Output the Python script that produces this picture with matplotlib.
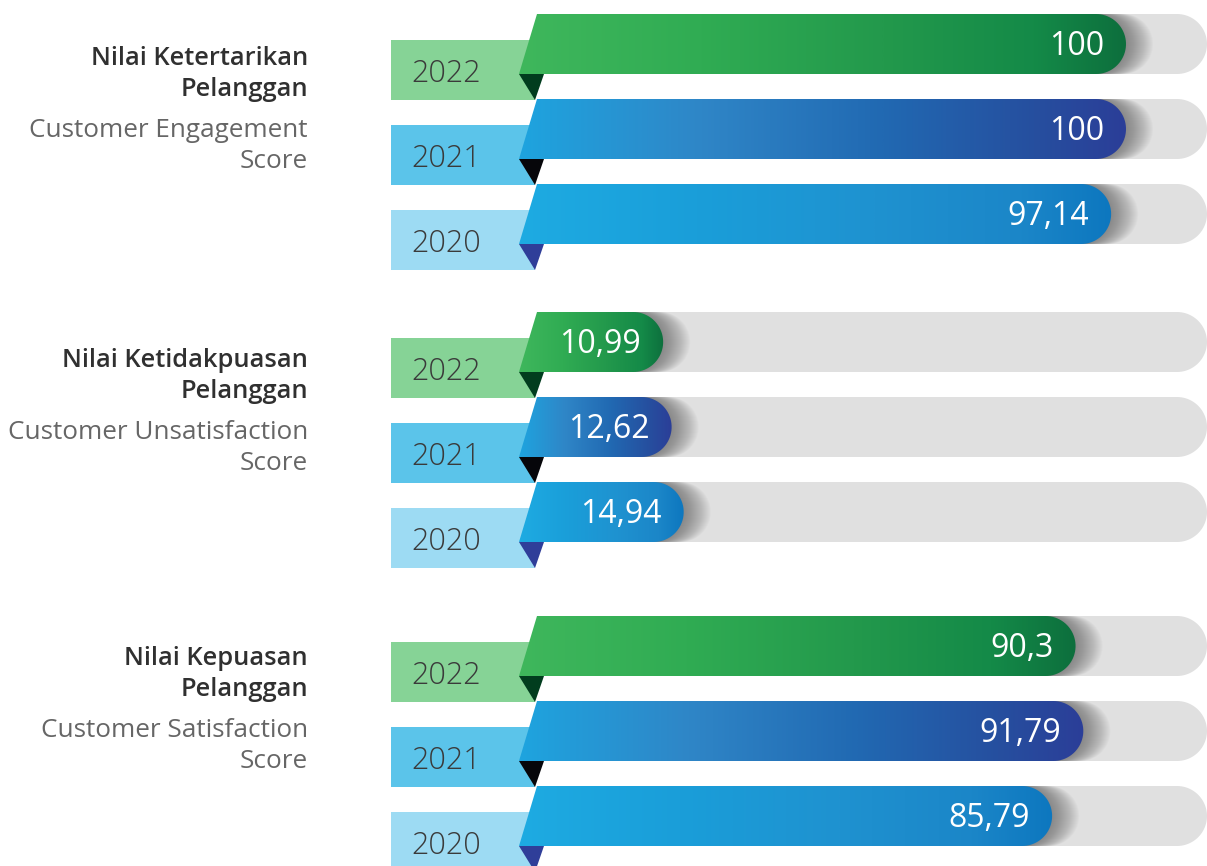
import numpy as np
import matplotlib
matplotlib.use("Agg")
import matplotlib.pyplot as plt
from matplotlib.path import Path
from matplotlib.patches import PathPatch, Polygon, Rectangle
from matplotlib.colors import LinearSegmentedColormap

# ---------------- data ----------------
years = ["2022", "2021", "2020"]
titles_id = ["Nilai Ketertarikan\nPelanggan",
             "Nilai Ketidakpuasan\nPelanggan",
             "Nilai Kepuasan\nPelanggan"]
titles_en = ["Customer Engagement\nScore",
             "Customer Unsatisfaction\nScore",
             "Customer Satisfaction\nScore"]
engagement_score = [100, 100, 97.14]
unsatisfaction_score = [10.99, 12.62, 14.94]
satisfaction_score = [90.3, 91.79, 85.79]
groups = [engagement_score, unsatisfaction_score, satisfaction_score]

# ---------------- style ----------------
plt.rcParams['font.family'] = ['Open Sans', 'DejaVu Sans']
box_colors = ['#86d396', '#5bc4ea', '#9ddbf3']
tri_colors = ['#013d1e', '#06060a', '#2f3e99']
grad_colors = [
    ['#3fb75c', '#30ac53', '#23994c', '#148a48', '#0d6f3d'],
    ['#1ea4df', '#2f86c7', '#2169b2', '#264f9f', '#2b3e98'],
    ['#1eabe2', '#1a9ed9', '#1f92d0', '#1b86c8', '#0d77bf'],
]
grad_pos = [0, 0.3, 0.6, 0.85, 1.0]
track_color = '#e0e0e0'

W, H = 1207, 866
X0, K = 606.0, 5.2          # pixel position of value 0, pixels per unit
BAR_H, R = 60, 30
GROUP_TOP = [14, 312, 616]
ROW_OFF = [0, 85, 170]
TEXT_BASE = [65, 367, 665]


def vx(px):
    return (px - X0) / K


fig = plt.figure(figsize=(W / 100, H / 100), dpi=100)
ax = fig.add_axes([0, 0, 1, 1])
ax.set_xlim(vx(0), vx(W))
ax.set_ylim(H, 0)
ax.axis('off')


def rounded_path(xlt, xlb, xr, yt, yb):
    rx = R / K
    yc = (yt + yb) / 2
    cx = xr - rx
    t = np.linspace(np.pi / 2, -np.pi / 2, 40)
    ax_ = cx + rx * np.cos(t)
    ay_ = yc - R * np.sin(t)
    verts = [(xlb, yb), (xlt, yt)] + list(zip(ax_, ay_)) + [(xlb, yb)]
    codes = [Path.MOVETO] + [Path.LINETO] * (len(verts) - 2) + [Path.CLOSEPOLY]
    return Path(verts, codes)


grad = np.linspace(0, 1, 512)[None, :]

for g, values in enumerate(groups):
    for i, v in enumerate(values):
        yt = GROUP_TOP[g] + ROW_OFF[i]
        yb = yt + BAR_H
        xlt, xlb = vx(537), vx(519)

        # track
        track = PathPatch(rounded_path(vx(540), vx(540), vx(W), yt, yb),
                          facecolor=track_color, edgecolor='none', zorder=1)
        ax.add_patch(track)
        # shadow
        for d in range(1, 28):
            sp = PathPatch(rounded_path(xlt, xlb, v + d / K, yt, yb),
                           facecolor='#5a5a5a', edgecolor='none', alpha=0.03, zorder=2)
            ax.add_patch(sp)
            sp.set_clip_path(track)
        # year box
        ax.add_patch(Rectangle((vx(391), yt + 26), vx(535) - vx(391), 60,
                               facecolor=box_colors[i], edgecolor='none', zorder=3))
        # triangle fold
        ax.add_patch(Polygon([(vx(519), yb), (vx(544), yb), (vx(535), yb + 26)],
                             closed=True, facecolor=tri_colors[i], edgecolor='none', zorder=4))
        # bar with gradient
        bar = PathPatch(rounded_path(xlt, xlb, v, yt, yb),
                        facecolor='none', edgecolor='none', zorder=5)
        ax.add_patch(bar)
        cmap = LinearSegmentedColormap.from_list('g%d' % i, list(zip(grad_pos, grad_colors[i])))
        im = ax.imshow(grad, extent=[xlb, v, yb, yt], aspect='auto', cmap=cmap,
                       interpolation='bilinear', zorder=5)
        im.set_clip_path(bar)

        # texts
        ax.text(vx(411), yt + 68, years[i], fontsize=22, color='#3a3a3a',
                ha='left', va='baseline', fontweight='light', zorder=6)
        label = f"{v:g}".replace('.', ',')
        ax.text(v - 22 / K, yt + 41, label, fontsize=23, color='white',
                ha='right', va='baseline', zorder=6)

    b = TEXT_BASE[g]
    l1, l2 = titles_id[g].split('\n')
    ax.text(vx(308), b, l1, fontsize=18.4, fontweight='semibold', color='#303030',
            ha='right', va='baseline')
    ax.text(vx(308), b + 31, l2, fontsize=18.4, fontweight='semibold', color='#303030',
            ha='right', va='baseline')
    e1, e2 = titles_en[g].split('\n')
    ax.text(vx(308), b + 72, e1, fontsize=18.8, color='#666666', ha='right', va='baseline')
    ax.text(vx(308), b + 103, e2, fontsize=18.8, color='#666666', ha='right', va='baseline')

ax.set_xlim(vx(0), vx(W))
ax.set_ylim(H, 0)
fig.savefig('out.png', dpi=100)
